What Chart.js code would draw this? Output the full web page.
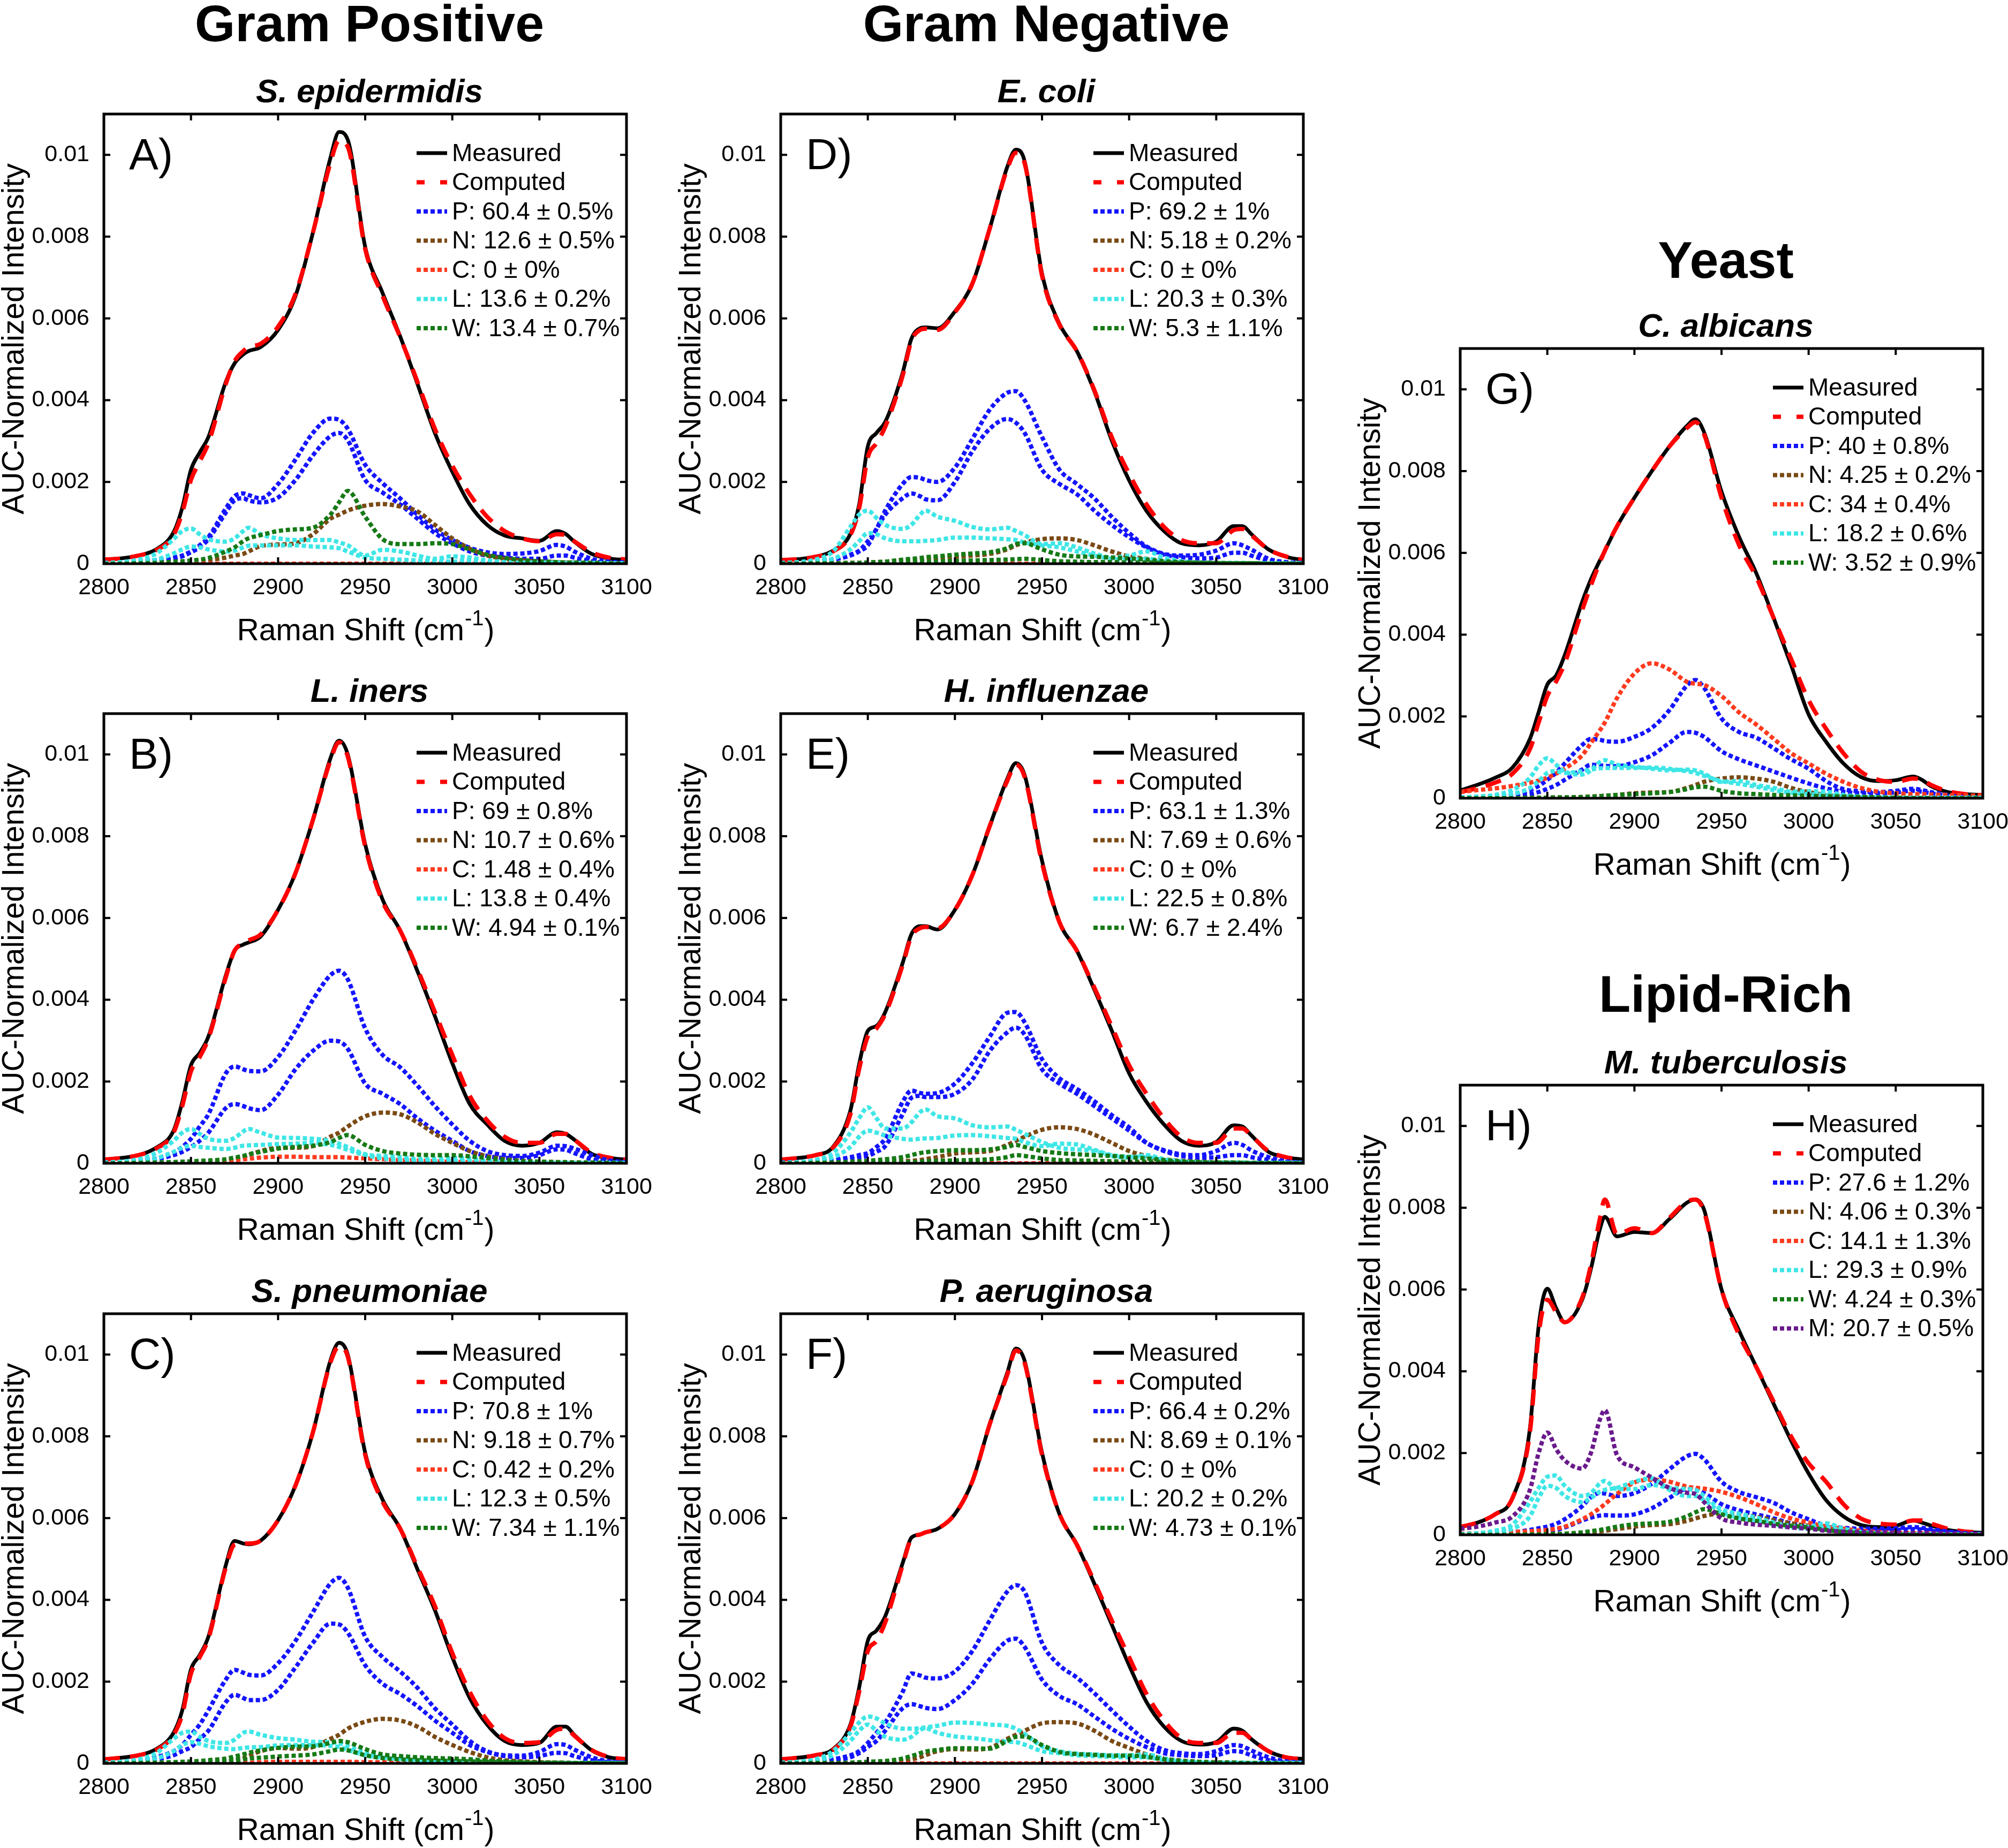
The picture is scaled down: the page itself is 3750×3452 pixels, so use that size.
<!DOCTYPE html>
<html lang="en">
<head>
<meta charset="utf-8">
<title>Raman C-H stretch region fits</title>
<script src="https://cdn.jsdelivr.net/npm/chart.js@4.4.1/dist/chart.umd.min.js"></script>
<style>
  html, body { margin:0; padding:0; background:#ffffff; }
  body { position:relative; width:3750px; height:3452px; overflow:hidden; }
  canvas { position:absolute; }
  .txt { position:absolute; white-space:nowrap; color:#000; transform:translateX(-50%); }
</style>
</head>
<body>
<script>
// ================= DATA =================
// Raman shift sample positions (cm^-1), shared by every series
const X = [2800,2810,2820,2830,2840, 2845,2850,2855,2860, 2870,2875,2880,2883,2890, 2900,2910,2920,2930,2935,2940, 2950,2960,2970,2980,2990, 3000,3010,3020,3030,3040,3050, 3060,3065,3070,3080,3090,3100];
// Intensities below are AUC-normalized intensity in units of 1e-3
const X_TICKS = [2800,2850,2900,2950,3000,3050,3100];
const X_TICK_LABELS = ['2800','2850','2900','2950','3000','3050','3100'];
const Y_TICKS = [0,2,4,6,8,10];
const Y_TICK_LABELS = ['0','0.002','0.004','0.006','0.008','0.01'];

// ---- A) S. epidermidis ----
const A_meas = [0.10,0.13,0.20,0.35,0.77, 1.37,2.30,2.72,3.10, 4.45,4.90,5.12,5.20,5.30, 5.72,6.55,8.10,9.92,10.56,10.37, 7.75,6.62,5.57,4.40,3.20, 2.25,1.45,0.95,0.69,0.62,0.56, 0.80,0.73,0.54,0.24,0.13,0.09];
const A_comp = [0.10,0.13,0.20,0.33,0.70, 1.25,2.05,2.50,2.95, 4.40,4.95,5.20,5.30,5.38, 5.80,6.60,8.10,9.80,10.35,10.20, 7.70,6.55,5.55,4.45,3.30, 2.40,1.70,1.15,0.80,0.62,0.55, 0.72,0.70,0.55,0.28,0.15,0.10];
const A_P1 = [0.02,0.03,0.05,0.08,0.15, 0.20,0.30,0.45,0.65, 1.35,1.65,1.72,1.68,1.60, 1.95,2.55,3.20,3.55,3.52,3.30, 2.42,1.97,1.60,1.20,0.84, 0.58,0.39,0.28,0.24,0.25,0.31, 0.46,0.42,0.30,0.12,0.05,0.03];
const A_P2 = [0.02,0.03,0.05,0.08,0.13, 0.18,0.28,0.40,0.60, 1.25,1.55,1.60,1.55,1.50, 1.62,2.05,2.65,3.12,3.20,3.02, 2.05,1.74,1.45,1.10,0.75, 0.50,0.30,0.20,0.15,0.12,0.12, 0.20,0.20,0.15,0.06,0.03,0.02];
const A_N = [0,0,0.01,0.02,0.03, 0.04,0.05,0.06,0.09, 0.15,0.20,0.24,0.30,0.43, 0.47,0.50,0.72,1.10,1.20,1.30, 1.42,1.46,1.40,1.28,0.95, 0.62,0.37,0.20,0.12,0.08,0.05, 0.04,0.03,0.03,0.02,0.01,0];
const A_C = [0,0,0,0,0, 0,0,0,0, 0,0,0,0,0, 0,0,0,0,0,0, 0,0,0,0,0, 0,0,0,0,0,0, 0,0,0,0,0,0];
const A_L1 = [0.02,0.04,0.10,0.25,0.60, 0.80,0.86,0.72,0.60, 0.54,0.62,0.80,0.88,0.72, 0.62,0.58,0.58,0.58,0.52,0.45, 0.20,0.34,0.30,0.20,0.12, 0.18,0.15,0.08,0.04,0.03,0.03, 0.03,0.02,0.02,0.02,0.01,0.01];
const A_L2 = [0.01,0.02,0.05,0.10,0.25, 0.35,0.42,0.40,0.35, 0.30,0.32,0.40,0.44,0.45, 0.45,0.45,0.42,0.40,0.38,0.30, 0.15,0.12,0.10,0.08,0.06, 0.05,0.08,0.05,0.02,0.01,0.01, 0.01,0.01,0.01,0.01,0.01,0.01];
const A_W = [0,0,0.01,0.02,0.05, 0.06,0.08,0.10,0.14, 0.30,0.40,0.55,0.62,0.70, 0.80,0.84,0.88,1.20,1.50,1.78, 1.15,0.60,0.48,0.48,0.50, 0.48,0.35,0.22,0.14,0.09,0.06, 0.04,0.03,0.03,0.02,0.01,0];
const A_labels = ['P: 60.4 ± 0.5%','N: 12.6 ± 0.5%','C: 0 ± 0%','L: 13.6 ± 0.2%','W: 13.4 ± 0.7%'];

// ---- B) L. iners ----
const B_meas = [0.09,0.13,0.20,0.38,0.80, 1.50,2.40,2.70,3.10, 4.60,5.20,5.35,5.40,5.55, 6.20,7.10,8.40,9.90,10.34,10.00, 7.80,6.45,5.70,4.70,3.60, 2.45,1.45,0.95,0.55,0.43,0.50, 0.76,0.72,0.58,0.23,0.13,0.09];
const B_comp = [0.09,0.13,0.20,0.36,0.75, 1.40,2.25,2.60,3.05, 4.55,5.20,5.38,5.45,5.60, 6.20,7.10,8.40,9.85,10.30,9.95, 7.75,6.40,5.70,4.75,3.70, 2.65,1.65,1.05,0.65,0.50,0.50, 0.72,0.72,0.58,0.26,0.14,0.09];
const B_P1 = [0.02,0.03,0.06,0.12,0.25, 0.40,0.60,0.90,1.20, 2.20,2.37,2.30,2.26,2.25, 2.60,3.25,4.00,4.60,4.71,4.50, 3.30,2.65,2.35,1.90,1.40, 0.95,0.55,0.30,0.20,0.18,0.26, 0.43,0.42,0.36,0.20,0.07,0.03];
const B_P2 = [0.02,0.03,0.05,0.10,0.20, 0.28,0.40,0.55,0.75, 1.35,1.45,1.40,1.35,1.30, 1.68,2.30,2.75,3.00,2.98,2.80, 1.95,1.70,1.45,1.10,0.80, 0.55,0.30,0.18,0.13,0.13,0.20, 0.34,0.33,0.25,0.10,0.04,0.02];
const B_N = [0,0,0.01,0.01,0.02, 0.02,0.03,0.03,0.04, 0.06,0.10,0.15,0.20,0.30, 0.38,0.38,0.42,0.65,0.75,0.90, 1.15,1.24,1.20,1.00,0.72, 0.50,0.30,0.17,0.10,0.06,0.04, 0.03,0.02,0.02,0.01,0,0];
const B_C = [0,0,0,0,0.01, 0.01,0.01,0.02,0.02, 0.05,0.07,0.10,0.11,0.14, 0.16,0.16,0.15,0.15,0.15,0.14, 0.12,0.10,0.08,0.07,0.05, 0.04,0.03,0.02,0.02,0.01,0.01, 0,0,0,0,0,0];
const B_L1 = [0.02,0.04,0.10,0.25,0.55, 0.75,0.84,0.72,0.60, 0.55,0.62,0.78,0.84,0.75, 0.63,0.62,0.60,0.55,0.48,0.40, 0.22,0.18,0.15,0.10,0.10, 0.13,0.12,0.06,0.03,0.02,0.01, 0.01,0.01,0.01,0.01,0.01,0.01];
const B_L2 = [0.01,0.02,0.05,0.12,0.28, 0.38,0.43,0.40,0.38, 0.35,0.38,0.43,0.44,0.45, 0.47,0.48,0.50,0.45,0.40,0.33, 0.20,0.12,0.08,0.06,0.05, 0.05,0.05,0.03,0.02,0.01,0.01, 0.01,0.01,0.01,0.01,0.01,0.01];
const B_W = [0,0,0.01,0.02,0.03, 0.04,0.05,0.06,0.07, 0.10,0.14,0.18,0.22,0.28, 0.36,0.40,0.43,0.52,0.62,0.69, 0.45,0.30,0.24,0.21,0.20, 0.20,0.17,0.13,0.08,0.05,0.04, 0.03,0.03,0.02,0.02,0.01,0];
const B_labels = ['P: 69 ± 0.8%','N: 10.7 ± 0.6%','C: 1.48 ± 0.4%','L: 13.8 ± 0.4%','W: 4.94 ± 0.1%'];

// ---- C) S. pneumoniae ----
const C_meas = [0.10,0.14,0.20,0.35,0.75, 1.30,2.30,2.65,3.10, 4.85,5.44,5.38,5.36,5.45, 5.95,6.80,8.10,9.85,10.29,10.00, 7.60,6.45,5.75,4.75,3.75, 2.60,1.60,0.95,0.55,0.45,0.50, 0.90,0.90,0.70,0.32,0.15,0.10];
const C_comp = [0.10,0.14,0.20,0.33,0.70, 1.20,2.20,2.60,3.05, 4.80,5.35,5.38,5.38,5.45, 5.95,6.80,8.10,9.80,10.20,9.95, 7.55,6.40,5.75,4.80,3.85, 2.70,1.75,1.05,0.62,0.50,0.52, 0.82,0.85,0.68,0.33,0.16,0.10];
const C_P1 = [0.02,0.03,0.06,0.15,0.30, 0.45,0.70,0.95,1.30, 2.05,2.29,2.22,2.17,2.15, 2.45,3.00,3.70,4.40,4.54,4.30, 3.10,2.60,2.25,1.85,1.35, 0.95,0.55,0.30,0.20,0.19,0.28, 0.47,0.45,0.34,0.15,0.05,0.02];
const C_P2 = [0.02,0.03,0.05,0.10,0.20, 0.30,0.40,0.60,0.80, 1.50,1.68,1.60,1.55,1.55, 1.80,2.35,2.95,3.42,3.40,3.20, 2.40,1.95,1.70,1.40,1.05, 0.75,0.45,0.28,0.18,0.15,0.18, 0.26,0.25,0.18,0.08,0.03,0.02];
const C_N = [0,0,0,0,0.01, 0.01,0.02,0.02,0.03, 0.05,0.08,0.12,0.18,0.30, 0.38,0.36,0.40,0.60,0.70,0.85, 1.02,1.09,1.05,0.90,0.65, 0.45,0.28,0.15,0.08,0.05,0.03, 0.02,0.02,0.01,0.01,0,0];
const C_C = [0,0,0,0,0, 0,0.01,0.01,0.01, 0.01,0.02,0.02,0.02,0.03, 0.04,0.04,0.04,0.04,0.04,0.04, 0.03,0.03,0.02,0.02,0.02, 0.01,0.01,0.01,0,0,0, 0,0,0,0,0,0];
const C_L1 = [0.02,0.04,0.10,0.25,0.60, 0.75,0.78,0.65,0.55, 0.50,0.58,0.75,0.78,0.70, 0.62,0.58,0.53,0.52,0.50,0.42, 0.25,0.18,0.13,0.10,0.08, 0.08,0.10,0.05,0.03,0.02,0.01, 0.01,0.01,0.01,0.01,0.01,0.01];
const C_L2 = [0.01,0.02,0.05,0.12,0.30, 0.45,0.52,0.48,0.42, 0.36,0.35,0.38,0.39,0.40, 0.44,0.45,0.45,0.43,0.40,0.33, 0.20,0.14,0.10,0.07,0.06, 0.05,0.05,0.03,0.02,0.01,0.01, 0.01,0.01,0.01,0.01,0.01,0.01];
const C_W1 = [0,0,0.01,0.02,0.03, 0.04,0.05,0.06,0.08, 0.12,0.17,0.22,0.26,0.32, 0.38,0.41,0.42,0.50,0.55,0.52, 0.35,0.22,0.18,0.15,0.13, 0.12,0.10,0.07,0.05,0.03,0.02, 0.02,0.01,0.01,0.01,0,0];
const C_W2 = [0,0,0,0,0.01, 0.01,0.01,0.02,0.03, 0.05,0.07,0.10,0.12,0.14, 0.17,0.19,0.22,0.30,0.34,0.32, 0.20,0.13,0.10,0.08,0.07, 0.06,0.05,0.04,0.03,0.02,0.01, 0.01,0,0,0,0,0];
const C_labels = ['P: 70.8 ± 1%','N: 9.18 ± 0.7%','C: 0.42 ± 0.2%','L: 12.3 ± 0.5%','W: 7.34 ± 1.1%'];

// ---- D) E. coli ----
const D_meas = [0.09,0.11,0.17,0.32,0.73, 1.44,2.87,3.20,3.47, 4.67,5.50,5.76,5.78,5.76, 6.17,6.85,8.20,9.70,10.13,9.85, 7.10,5.87,5.20,4.22,3.02, 2.04,1.29,0.80,0.50,0.45,0.54, 0.92,0.92,0.73,0.35,0.17,0.09];
const D_comp = [0.09,0.11,0.17,0.30,0.70, 1.35,2.60,2.95,3.35, 4.60,5.45,5.72,5.75,5.72, 6.15,6.85,8.20,9.65,10.05,9.80, 7.05,5.85,5.20,4.25,3.10, 2.20,1.45,0.90,0.58,0.50,0.50, 0.82,0.85,0.70,0.35,0.18,0.09];
const D_P1 = [0.02,0.03,0.05,0.10,0.22, 0.32,0.55,0.85,1.30, 1.95,2.12,2.10,2.05,2.00, 2.35,3.05,3.77,4.18,4.22,4.00, 3.10,2.30,1.95,1.60,1.15, 0.75,0.42,0.24,0.20,0.22,0.32, 0.50,0.45,0.35,0.12,0.04,0.02];
const D_P2 = [0.02,0.03,0.05,0.10,0.20, 0.30,0.45,0.85,1.20, 1.60,1.72,1.65,1.58,1.55, 2.00,2.75,3.30,3.54,3.45,3.20, 2.30,1.95,1.70,1.30,0.95, 0.65,0.40,0.22,0.16,0.13,0.15, 0.27,0.27,0.20,0.08,0.03,0.02];
const D_N = [0,0,0.01,0.01,0.02, 0.02,0.03,0.04,0.05, 0.08,0.09,0.10,0.12,0.14, 0.17,0.20,0.24,0.35,0.45,0.52, 0.60,0.62,0.58,0.45,0.30, 0.18,0.12,0.08,0.05,0.03,0.02, 0.01,0.01,0.01,0,0,0];
const D_C = [0,0,0,0,0, 0,0,0,0, 0,0,0,0,0, 0,0,0,0,0,0, 0,0,0,0,0, 0,0,0,0,0,0, 0,0,0,0,0,0];
const D_L1 = [0.02,0.04,0.10,0.30,0.90, 1.20,1.30,1.12,0.95, 0.85,0.95,1.20,1.30,1.15, 1.05,0.90,0.84,0.88,0.80,0.70, 0.48,0.50,0.40,0.25,0.15, 0.20,0.30,0.15,0.06,0.03,0.02, 0.02,0.02,0.01,0.01,0.01,0.01];
const D_L2 = [0.01,0.02,0.05,0.12,0.35, 0.55,0.75,0.72,0.62, 0.55,0.55,0.55,0.56,0.58, 0.64,0.64,0.62,0.60,0.58,0.52, 0.45,0.40,0.30,0.20,0.12, 0.10,0.12,0.06,0.03,0.02,0.01, 0.01,0.01,0.01,0.01,0.01,0.01];
const D_W1 = [0,0,0.01,0.01,0.02, 0.02,0.03,0.04,0.05, 0.10,0.12,0.14,0.16,0.18, 0.22,0.25,0.28,0.38,0.48,0.50, 0.35,0.22,0.18,0.17,0.15, 0.13,0.10,0.06,0.04,0.02,0.02, 0.01,0.01,0.01,0,0,0];
const D_W2 = [0,0,0,0,0.01, 0.01,0.01,0.02,0.02, 0.03,0.04,0.05,0.05,0.06, 0.07,0.08,0.09,0.10,0.11,0.12, 0.09,0.06,0.05,0.04,0.04, 0.03,0.03,0.02,0.02,0.02,0.01, 0.01,0.01,0.01,0,0,0];
const D_labels = ['P: 69.2 ± 1%','N: 5.18 ± 0.2%','C: 0 ± 0%','L: 20.3 ± 0.3%','W: 5.3 ± 1.1%'];

// ---- E) H. influenzae ----
const E_meas = [0.09,0.13,0.20,0.40,1.29, 2.42,3.24,3.36,3.70, 4.90,5.60,5.80,5.80,5.72, 6.20,7.05,8.25,9.40,9.79,9.50, 7.40,5.90,5.20,4.25,3.25, 2.20,1.50,0.95,0.55,0.43,0.52, 0.93,0.90,0.69,0.28,0.15,0.09];
const E_comp = [0.09,0.13,0.20,0.38,1.20, 2.30,3.10,3.30,3.65, 4.85,5.55,5.75,5.78,5.75, 6.20,7.05,8.25,9.35,9.75,9.45, 7.35,5.90,5.20,4.30,3.35, 2.40,1.70,1.10,0.65,0.50,0.50, 0.85,0.85,0.68,0.30,0.15,0.09];
const E_P1 = [0.02,0.03,0.05,0.08,0.15, 0.20,0.25,0.40,0.60, 1.50,1.78,1.72,1.70,1.72, 1.95,2.45,3.10,3.68,3.70,3.45, 2.55,2.08,1.82,1.52,1.18, 0.88,0.50,0.32,0.22,0.20,0.30, 0.50,0.45,0.32,0.15,0.05,0.02];
const E_P2 = [0.02,0.03,0.04,0.06,0.10, 0.14,0.18,0.28,0.42, 1.20,1.60,1.65,1.62,1.62, 1.70,2.05,2.75,3.20,3.32,3.15, 2.30,1.95,1.70,1.40,1.10, 0.80,0.50,0.30,0.18,0.13,0.15, 0.20,0.20,0.15,0.08,0.03,0.02];
const E_N = [0,0,0,0,0.01, 0.01,0.01,0.02,0.03, 0.05,0.06,0.08,0.10,0.15, 0.24,0.27,0.30,0.45,0.55,0.65, 0.82,0.88,0.84,0.70,0.50, 0.30,0.18,0.10,0.06,0.04,0.02, 0.01,0.01,0.01,0,0,0];
const E_C = [0,0,0,0,0, 0,0,0,0, 0,0,0,0,0, 0,0,0,0,0,0, 0,0,0,0,0, 0,0,0,0,0,0, 0,0,0,0,0,0];
const E_L1 = [0.01,0.03,0.08,0.25,0.75, 1.10,1.37,1.10,0.85, 0.85,1.00,1.25,1.32,1.15, 1.10,0.93,0.88,0.90,0.82,0.72, 0.52,0.38,0.34,0.30,0.18, 0.14,0.20,0.10,0.05,0.03,0.02, 0.02,0.02,0.01,0.01,0.01,0.01];
const E_L2 = [0.01,0.02,0.05,0.15,0.40, 0.65,0.80,0.75,0.68, 0.60,0.58,0.60,0.61,0.62, 0.68,0.69,0.66,0.62,0.60,0.52, 0.42,0.48,0.46,0.33,0.20, 0.16,0.15,0.08,0.04,0.02,0.01, 0.01,0.01,0.01,0.01,0.01,0.01];
const E_W1 = [0,0,0.01,0.02,0.04, 0.05,0.06,0.08,0.10, 0.15,0.20,0.25,0.27,0.30, 0.32,0.32,0.34,0.40,0.45,0.40, 0.30,0.25,0.22,0.20,0.18, 0.15,0.12,0.08,0.05,0.03,0.02, 0.02,0.01,0.01,0.01,0,0];
const E_W2 = [0,0,0,0,0.01, 0.01,0.01,0.01,0.02, 0.03,0.03,0.04,0.05,0.06, 0.07,0.08,0.10,0.15,0.20,0.18, 0.12,0.08,0.07,0.06,0.05, 0.04,0.04,0.03,0.02,0.02,0.01, 0.01,0.01,0,0,0,0];
const E_labels = ['P: 63.1 ± 1.3%','N: 7.69 ± 0.6%','C: 0 ± 0%','L: 22.5 ± 0.8%','W: 6.7 ± 2.4%'];

// ---- F) P. aeruginosa ----
const F_meas = [0.10,0.14,0.20,0.35,0.95, 1.85,3.00,3.25,3.60, 4.90,5.52,5.60,5.65,5.74, 6.10,6.90,8.30,9.55,10.15,9.85, 7.60,6.10,5.35,4.40,3.40, 2.40,1.50,0.90,0.55,0.46,0.52, 0.85,0.80,0.60,0.30,0.15,0.11];
const F_comp = [0.10,0.14,0.20,0.33,0.90, 1.75,2.75,3.00,3.45, 4.85,5.50,5.60,5.65,5.74, 6.10,6.90,8.30,9.50,10.10,9.80, 7.55,6.10,5.35,4.45,3.50, 2.60,1.70,1.05,0.62,0.50,0.50, 0.75,0.75,0.60,0.30,0.15,0.10];
const F_P1 = [0.02,0.03,0.05,0.10,0.20, 0.30,0.50,0.75,1.00, 1.75,2.20,2.15,2.10,2.08, 2.25,2.75,3.50,4.20,4.36,4.20, 2.95,2.40,2.10,1.72,1.30, 0.90,0.55,0.33,0.25,0.23,0.30, 0.45,0.42,0.32,0.15,0.05,0.02];
const F_P2 = [0.02,0.03,0.05,0.08,0.15, 0.25,0.40,0.55,0.80, 1.35,1.45,1.40,1.36,1.33, 1.55,1.95,2.55,3.00,3.05,2.85, 2.05,1.65,1.45,1.15,0.85, 0.60,0.40,0.25,0.20,0.18,0.20, 0.30,0.28,0.20,0.08,0.03,0.02];
const F_N = [0,0,0,0,0.01, 0.01,0.02,0.02,0.03, 0.06,0.10,0.15,0.20,0.30, 0.35,0.34,0.38,0.60,0.70,0.80, 0.98,1.01,0.98,0.80,0.55, 0.38,0.22,0.12,0.07,0.04,0.03, 0.02,0.01,0.01,0,0,0];
const F_C = [0,0,0,0,0, 0,0,0,0, 0,0,0,0,0, 0,0,0,0,0,0, 0,0,0,0,0, 0,0,0,0,0,0, 0,0,0,0,0,0];
const F_L1 = [0.02,0.04,0.10,0.30,0.75, 1.00,1.15,1.10,0.98, 0.85,0.85,0.86,0.88,0.92, 1.00,0.99,0.95,0.92,0.85,0.72, 0.42,0.30,0.24,0.22,0.20, 0.20,0.22,0.12,0.06,0.03,0.02, 0.02,0.02,0.01,0.01,0.01,0.01];
const F_L2 = [0.01,0.02,0.06,0.20,0.55, 0.80,0.95,0.80,0.65, 0.58,0.65,0.82,0.86,0.75, 0.66,0.62,0.57,0.53,0.52,0.46, 0.30,0.25,0.20,0.18,0.16, 0.15,0.15,0.08,0.04,0.02,0.01, 0.01,0.01,0.01,0.01,0.01,0.01];
const F_W = [0,0,0.01,0.01,0.02, 0.03,0.04,0.05,0.06, 0.12,0.18,0.25,0.29,0.33, 0.37,0.37,0.36,0.55,0.65,0.66, 0.45,0.28,0.23,0.21,0.19, 0.19,0.16,0.10,0.06,0.04,0.02, 0.02,0.01,0.01,0.01,0,0];
const F_labels = ['P: 66.4 ± 0.2%','N: 8.69 ± 0.1%','C: 0 ± 0%','L: 20.2 ± 0.2%','W: 4.73 ± 0.1%'];

// ---- G) C. albicans ----
const G_meas = [0.19,0.33,0.50,0.75,1.45, 2.10,2.78,3.00,3.50, 4.80,5.35,5.80,6.05,6.65, 7.35,8.00,8.60,9.10,9.27,8.95, 7.50,6.40,5.50,4.40,3.25, 2.05,1.38,0.85,0.52,0.42,0.44, 0.53,0.45,0.30,0.15,0.10,0.08];
const G_comp = [0.15,0.25,0.38,0.60,1.20, 1.85,2.50,2.85,3.30, 4.60,5.20,5.75,6.05,6.65, 7.35,8.00,8.60,9.05,9.20,8.90, 7.35,6.20,5.40,4.40,3.40, 2.40,1.70,1.10,0.65,0.45,0.40, 0.48,0.45,0.33,0.17,0.10,0.07];
const G_P1 = [0.02,0.03,0.05,0.08,0.20, 0.30,0.45,0.62,0.85, 1.30,1.45,1.43,1.40,1.38, 1.50,1.72,2.15,2.75,2.89,2.70, 1.95,1.62,1.48,1.22,0.95, 0.72,0.42,0.22,0.17,0.15,0.18, 0.23,0.20,0.15,0.08,0.03,0.02];
const G_P2 = [0.01,0.02,0.03,0.05,0.10, 0.15,0.23,0.32,0.45, 0.70,0.82,0.80,0.79,0.78, 0.88,1.05,1.35,1.62,1.60,1.50, 1.15,0.95,0.80,0.65,0.50, 0.36,0.24,0.16,0.12,0.12,0.14, 0.18,0.16,0.12,0.06,0.03,0.01];
const G_N = [0,0,0,0,0.01, 0.01,0.01,0.02,0.02, 0.03,0.04,0.05,0.06,0.08, 0.12,0.14,0.15,0.25,0.32,0.40, 0.48,0.51,0.48,0.40,0.25, 0.15,0.08,0.04,0.02,0.01,0, 0,0,0,0,0,0];
const G_C = [0.15,0.20,0.24,0.30,0.38, 0.43,0.50,0.60,0.72, 1.05,1.35,1.65,1.85,2.45, 3.05,3.30,3.15,2.85,2.80,2.77, 2.50,2.10,1.80,1.45,1.10, 0.85,0.60,0.40,0.25,0.16,0.12, 0.10,0.10,0.09,0.08,0.07,0.06];
const G_L1 = [0.02,0.04,0.08,0.20,0.50, 0.80,0.98,0.82,0.65, 0.58,0.68,0.88,0.93,0.82, 0.77,0.72,0.68,0.70,0.68,0.60, 0.40,0.42,0.32,0.25,0.16, 0.17,0.16,0.08,0.04,0.02,0.01, 0.01,0.01,0.01,0.01,0.01,0.01];
const G_L2 = [0.01,0.02,0.04,0.10,0.25, 0.42,0.62,0.66,0.62, 0.66,0.70,0.73,0.74,0.74, 0.74,0.75,0.72,0.66,0.62,0.55, 0.42,0.35,0.28,0.20,0.13, 0.10,0.08,0.05,0.03,0.02,0.01, 0.01,0.01,0.01,0.01,0.01,0.01];
const G_W = [0,0,0,0,0.01, 0.01,0.01,0.02,0.02, 0.03,0.04,0.05,0.06,0.08, 0.10,0.12,0.15,0.22,0.27,0.28, 0.18,0.12,0.10,0.08,0.07, 0.06,0.05,0.04,0.03,0.02,0.01, 0,0,0,0,0,0];
const G_labels = ['P: 40 ± 0.8%','N: 4.25 ± 0.2%','C: 34 ± 0.4%','L: 18.2 ± 0.6%','W: 3.52 ± 0.9%'];

// ---- H) M. tuberculosis ----
const H_meas = [0.19,0.30,0.50,0.90,2.60, 5.10,6.02,5.55,5.20, 5.75,6.50,7.45,7.78,7.30, 7.41,7.38,7.72,8.12,8.20,7.95, 6.00,5.00,4.10,3.20,2.30, 1.50,0.85,0.45,0.24,0.19,0.22, 0.35,0.30,0.23,0.12,0.07,0.05];
const H_comp = [0.19,0.30,0.50,0.90,2.50, 4.90,5.75,5.45,5.20, 5.80,6.60,7.70,8.20,7.35, 7.50,7.38,7.75,8.15,8.20,7.90, 6.00,4.90,4.10,3.25,2.40, 1.75,1.30,0.75,0.40,0.28,0.25, 0.35,0.35,0.28,0.15,0.08,0.06];
const H_P1 = [0.01,0.02,0.04,0.06,0.12, 0.16,0.20,0.27,0.38, 0.70,0.92,1.02,1.01,0.95, 1.02,1.25,1.60,1.92,1.98,1.85, 1.30,1.05,0.92,0.78,0.55, 0.38,0.22,0.17,0.15,0.15,0.16, 0.19,0.17,0.14,0.08,0.04,0.02];
const H_P2 = [0.01,0.01,0.02,0.03,0.05, 0.07,0.09,0.12,0.18, 0.35,0.42,0.47,0.48,0.47, 0.50,0.65,0.90,1.12,1.10,1.02, 0.75,0.60,0.50,0.40,0.28, 0.20,0.14,0.11,0.10,0.10,0.12, 0.14,0.13,0.10,0.06,0.03,0.02];
const H_N = [0,0,0,0,0.01, 0.01,0.01,0.02,0.02, 0.04,0.06,0.08,0.10,0.14, 0.20,0.24,0.26,0.34,0.40,0.46, 0.52,0.50,0.44,0.36,0.28, 0.22,0.14,0.08,0.04,0.02,0.01, 0,0,0,0,0,0];
const H_C = [0.03,0.04,0.05,0.07,0.09, 0.10,0.12,0.15,0.20, 0.38,0.50,0.65,0.75,1.00, 1.28,1.35,1.30,1.18,1.15,1.13, 1.05,0.92,0.75,0.55,0.40, 0.30,0.20,0.15,0.10,0.07,0.05, 0.04,0.04,0.03,0.02,0.02,0.01];
const H_L1 = [0.02,0.04,0.10,0.25,0.80, 1.15,1.42,1.45,1.20, 0.95,1.02,1.25,1.32,1.12, 1.12,1.22,1.15,1.12,1.10,0.95, 0.62,0.52,0.42,0.30,0.22, 0.20,0.28,0.15,0.07,0.03,0.02, 0.01,0.01,0.01,0.01,0.01,0.01];
const H_L2 = [0.01,0.03,0.06,0.15,0.45, 0.90,1.20,1.15,0.95, 0.80,0.90,1.05,1.10,1.15, 1.30,1.38,1.10,0.95,0.95,0.85, 0.55,0.42,0.35,0.25,0.18, 0.15,0.18,0.10,0.05,0.02,0.01, 0.01,0.01,0.01,0.01,0.01,0.01];
const H_W = [0,0,0,0,0.01, 0.01,0.02,0.02,0.03, 0.06,0.09,0.12,0.14,0.20, 0.26,0.28,0.32,0.45,0.55,0.63, 0.50,0.40,0.34,0.27,0.22, 0.18,0.12,0.07,0.04,0.02,0.01, 0,0,0,0,0,0];
const H_M = [0.15,0.20,0.30,0.45,1.10, 2.00,2.50,2.10,1.82, 1.62,2.00,2.80,3.05,1.95, 1.65,1.40,1.15,1.03,1.00,0.80, 0.40,0.30,0.25,0.22,0.18, 0.15,0.10,0.08,0.07,0.06,0.05, 0.05,0.05,0.04,0.03,0.02,0.02];
const H_labels = ['P: 27.6 ± 1.2%','N: 4.06 ± 0.3%','C: 14.1 ± 1.3%','L: 29.3 ± 0.9%','W: 4.24 ± 0.3%','M: 20.7 ± 0.5%'];

// ================= LAYOUT / STYLE =================
const FONT = "'Liberation Sans', Arial, Helvetica, sans-serif";
const Y_UNIT_TITLE = 'AUC-Normalized Intensity';
const X_TITLE_MAIN = 'Raman Shift (cm', X_TITLE_SUP = '-1', X_TITLE_END = ')';
const YAXIS_W = 194, XAXIS_H = 180, PAD_TOP = 20, PAD_RIGHT = 60;
const PLOT_W = 976, PLOT_H = 840;
const CW = YAXIS_W + PLOT_W + PAD_RIGHT, CH = PAD_TOP + PLOT_H + XAXIS_H;

const COLORS = { P:'#1414ff', N:'#7a4a14', C:'#ff3a1e', L:'#3ee6e6', W:'#167a16', M:'#6a1a8c' };
const COMP_KEYS = ['P','N','C','L','W','M'];

const PANELS = [
  {letter:'A)', species:'S. epidermidis', L:194,  T:213,  meas:A_meas, comp:A_comp, comps:{P:[A_P1,A_P2], N:[A_N], C:[A_C], L:[A_L1,A_L2], W:[A_W]}, labels:A_labels},
  {letter:'B)', species:'L. iners',       L:194,  T:1333, meas:B_meas, comp:B_comp, comps:{P:[B_P1,B_P2], N:[B_N], C:[B_C], L:[B_L1,B_L2], W:[B_W]}, labels:B_labels},
  {letter:'C)', species:'S. pneumoniae',  L:194,  T:2454, meas:C_meas, comp:C_comp, comps:{P:[C_P1,C_P2], N:[C_N], C:[C_C], L:[C_L1,C_L2], W:[C_W1,C_W2]}, labels:C_labels},
  {letter:'D)', species:'E. coli',        L:1458, T:213,  meas:D_meas, comp:D_comp, comps:{P:[D_P1,D_P2], N:[D_N], C:[D_C], L:[D_L1,D_L2], W:[D_W1,D_W2]}, labels:D_labels},
  {letter:'E)', species:'H. influenzae',  L:1458, T:1333, meas:E_meas, comp:E_comp, comps:{P:[E_P1,E_P2], N:[E_N], C:[E_C], L:[E_L1,E_L2], W:[E_W1,E_W2]}, labels:E_labels},
  {letter:'F)', species:'P. aeruginosa',  L:1458, T:2454, meas:F_meas, comp:F_comp, comps:{P:[F_P1,F_P2], N:[F_N], C:[F_C], L:[F_L1,F_L2], W:[F_W]}, labels:F_labels},
  {letter:'G)', species:'C. albicans',    L:2727, T:651,  meas:G_meas, comp:G_comp, comps:{P:[G_P1,G_P2], N:[G_N], C:[G_C], L:[G_L1,G_L2], W:[G_W]}, labels:G_labels},
  {letter:'H)', species:'M. tuberculosis',L:2727, T:2027, meas:H_meas, comp:H_comp, comps:{P:[H_P1,H_P2], N:[H_N], C:[H_C], L:[H_L1,H_L2], W:[H_W], M:[H_M]}, labels:H_labels}
];

const HEADINGS = [
  {text:'Gram Positive', cx:690,  base:77},
  {text:'Gram Negative', cx:1954, base:77},
  {text:'Yeast',         cx:3223, base:519},
  {text:'Lipid-Rich',    cx:3223, base:1890}
];

// ================= BUILD =================
function toXY(arr, name) {
  if (arr.length !== X.length) throw new Error('Series ' + name + ' has ' + arr.length + ' values, expected ' + X.length);
  return arr.map((v, i) => ({x: X[i], y: v}));
}

function buildDatasets(p) {
  const ds = [];
  ds.push({label:'Measured', data:toXY(p.meas, p.letter+'meas'), borderColor:'#000000', borderWidth:7, order:30, inLegend:true});
  ds.push({label:'Computed', data:toXY(p.comp, p.letter+'comp'), borderColor:'#ff0000', borderWidth:8, borderDash:[30,19], legendDash:[15,29], order:29, inLegend:true});
  let li = 0;
  COMP_KEYS.forEach((key, ki) => {
    const arrs = p.comps[key];
    if (!arrs) return;
    const label = p.labels[li++];
    arrs.forEach((arr, j) => {
      ds.push({label, data:toXY(arr, p.letter+key+j), borderColor:COLORS[key], borderWidth:8, borderDash:[8,5], order:20-ki, inLegend:j===0});
    });
  });
  return ds;
}

const decor = {
  id: 'decor',
  afterDatasetsDraw(chart, args, opts) {
    const ctx = chart.ctx;
    const {left, right, top, bottom} = chart.chartArea;
    const xs = chart.scales.x, ys = chart.scales.y;
    ctx.save();
    // legend inside plot
    ctx.font = '46px ' + FONT;
    ctx.textBaseline = 'middle';
    ctx.textAlign = 'left';
    let row = 0;
    chart.data.datasets.forEach(d => {
      if (!d.inLegend) return;
      const cy = top + 73 + row * 54.5;
      ctx.beginPath();
      ctx.setLineDash(d.legendDash || d.borderDash || []);
      ctx.lineWidth = d.borderWidth;
      ctx.strokeStyle = d.borderColor;
      ctx.lineCap = 'butt';
      ctx.moveTo(right - 392, cy);
      ctx.lineTo(right - 335, cy);
      ctx.stroke();
      ctx.setLineDash([]);
      ctx.fillStyle = '#000';
      ctx.fillText(d.label, right - 326, cy + 2);
      row++;
    });
    // panel letter
    ctx.font = '82px ' + FONT;
    ctx.textBaseline = 'alphabetic';
    ctx.fillStyle = '#000';
    ctx.fillText(opts.letter, left + 47, top + 103);
    // inward ticks on all four sides
    const TL = 12;
    ctx.strokeStyle = '#000';
    ctx.lineWidth = 4;
    ctx.beginPath();
    xs.ticks.forEach(t => {
      const px = xs.getPixelForValue(t.value);
      ctx.moveTo(px, bottom); ctx.lineTo(px, bottom - TL);
      ctx.moveTo(px, top); ctx.lineTo(px, top + TL);
    });
    ys.ticks.forEach(t => {
      const py = ys.getPixelForValue(t.value);
      ctx.moveTo(left, py); ctx.lineTo(left + TL, py);
      ctx.moveTo(right, py); ctx.lineTo(right - TL, py);
    });
    ctx.stroke();
    // box
    ctx.lineWidth = 5;
    ctx.strokeRect(left, top, right - left, bottom - top);
    ctx.restore();
  },
  afterDraw(chart) {
    const ctx = chart.ctx;
    const {left, right, bottom} = chart.chartArea;
    ctx.save();
    ctx.fillStyle = '#000';
    ctx.textBaseline = 'alphabetic';
    ctx.textAlign = 'left';
    ctx.font = '57px ' + FONT;
    const w1 = ctx.measureText(X_TITLE_MAIN).width;
    const w3 = ctx.measureText(X_TITLE_END).width;
    ctx.font = '40px ' + FONT;
    const w2 = ctx.measureText(X_TITLE_SUP).width;
    const base = bottom + 143;
    let x0 = (left + right) / 2 - (w1 + w2 + w3) / 2;
    ctx.font = '57px ' + FONT;
    ctx.fillText(X_TITLE_MAIN, x0, base);
    ctx.font = '40px ' + FONT;
    ctx.fillText(X_TITLE_SUP, x0 + w1 + 1, base - 28);
    ctx.font = '57px ' + FONT;
    ctx.fillText(X_TITLE_END, x0 + w1 + w2 + 2, base);
    ctx.restore();
  }
};

function addText(txt, cx, base, size, bold, italic) {
  const d = document.createElement('div');
  d.className = 'txt';
  d.textContent = txt;
  d.style.left = cx + 'px';
  d.style.top = (base - 0.8465 * size) + 'px';
  d.style.fontFamily = FONT;
  d.style.fontSize = size + 'px';
  d.style.lineHeight = size + 'px';
  d.style.fontWeight = bold ? 'bold' : 'normal';
  d.style.fontStyle = italic ? 'italic' : 'normal';
  document.body.appendChild(d);
}

HEADINGS.forEach(h => addText(h.text, h.cx, h.base, 97, true, false));

PANELS.forEach(p => {
  addText(p.species, p.L + PLOT_W / 2 + 8, p.T - 22, 62, true, true);
  const cv = document.createElement('canvas');
  cv.width = CW; cv.height = CH;
  cv.style.width = CW + 'px'; cv.style.height = CH + 'px';
  cv.style.left = (p.L - YAXIS_W) + 'px';
  cv.style.top = (p.T - PAD_TOP) + 'px';
  document.body.appendChild(cv);
  const chart = new Chart(cv.getContext('2d'), {
    type: 'line',
    data: { datasets: buildDatasets(p) },
    options: {
      responsive: false,
      maintainAspectRatio: false,
      animation: false,
      devicePixelRatio: 1,
      events: [],
      layout: { padding: { left: 0, right: PAD_RIGHT, top: PAD_TOP, bottom: 0 } },
      elements: {
        point: { radius: 0 },
        line: { cubicInterpolationMode: 'monotone', borderCapStyle: 'butt', borderJoinStyle: 'round', fill: false }
      },
      plugins: { legend: { display: false }, tooltip: { enabled: false }, decor: { letter: p.letter } },
      scales: {
        x: {
          type: 'linear', min: 2800, max: 3100,
          afterBuildTicks: s => { s.ticks = X_TICKS.map(v => ({ value: v })); },
          ticks: { font: { family: FONT, size: 43 }, color: '#000', padding: 11, maxRotation: 0, autoSkip: false,
                   callback: (v, i) => X_TICK_LABELS[i] },
          grid: { display: false }, border: { display: false },
          afterFit: s => { s.height = XAXIS_H; s.paddingLeft = 0; s.paddingRight = 0; }
        },
        y: {
          type: 'linear', min: 0, max: 11,
          afterBuildTicks: s => { s.ticks = Y_TICKS.map(v => ({ value: v })); },
          ticks: { font: { family: FONT, size: 43 }, color: '#000', padding: 19, autoSkip: false,
                   callback: (v, i) => Y_TICK_LABELS[i] },
          grid: { display: false }, border: { display: false },
          title: { display: true, text: Y_UNIT_TITLE, color: '#000', font: { family: FONT, size: 57, lineHeight: 1 }, padding: 0 },
          afterFit: s => { s.width = YAXIS_W; s.paddingTop = 0; s.paddingBottom = 0; }
        }
      }
    },
    plugins: [decor]
  });
  // make sure the plot area lands exactly where the reference has it
  const ca = chart.chartArea;
  cv.style.left = (p.L - ca.left) + 'px';
  cv.style.top = (p.T - ca.top) + 'px';
});
</script>
</body>
</html>
